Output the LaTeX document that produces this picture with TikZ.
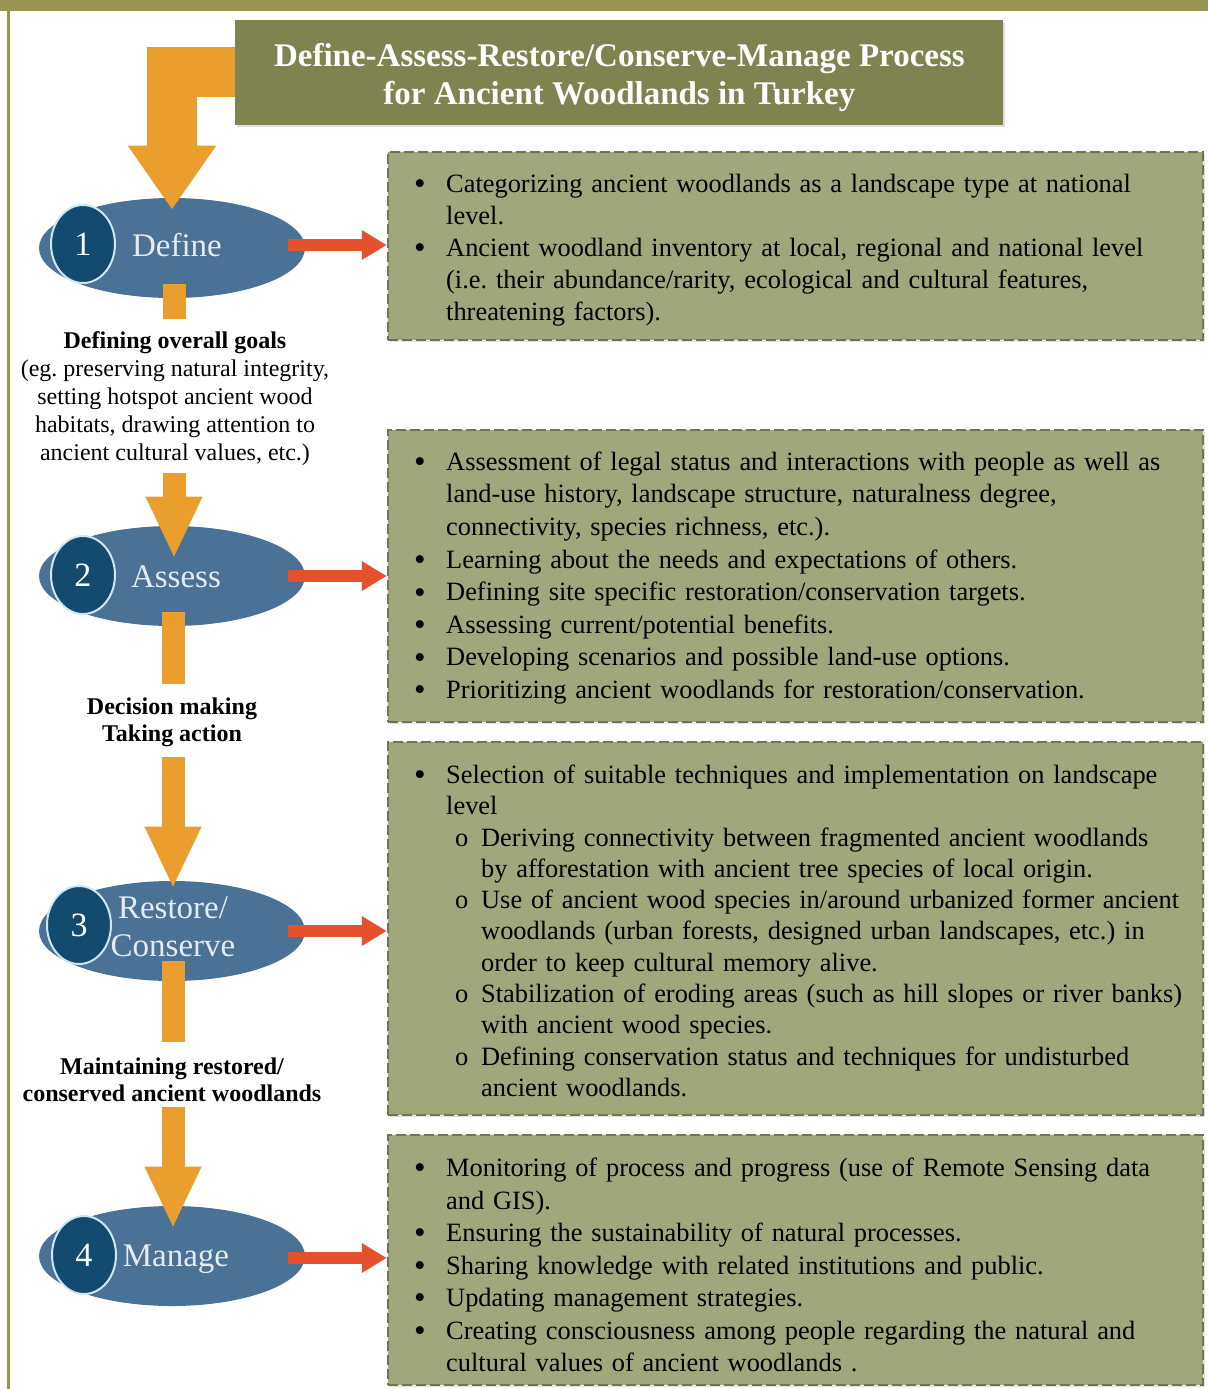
\documentclass[tikz,border=0pt]{standalone}
\usepackage{fontspec}
\setmainfont{Liberation Serif}
\usetikzlibrary{shapes.geometric,arrows.meta,positioning,calc,shadows}
\frenchspacing

\definecolor{bandolive}{HTML}{989452}
\definecolor{titleolive}{HTML}{7E8350}
\definecolor{boxolive}{HTML}{A0A87B}
\definecolor{dashline}{HTML}{6F7458}
\definecolor{gapcream}{HTML}{F4F2E4}
\definecolor{stepblue}{HTML}{4A7196}
\definecolor{steplight}{HTML}{E4ECF1}
\definecolor{numnavy}{HTML}{134A70}
\definecolor{rimcyan}{HTML}{CFE8EE}
\definecolor{flowor}{HTML}{E99E2E}
\definecolor{linkred}{HTML}{E4512C}

% list items for the green boxes
\newcommand{\bigdot}{\smash{\raisebox{-1.2pt}{\scalebox{1.25}{\textbullet}}}}
\newcommand{\bitem}[1]{\par\hangindent=16pt\hangafter=1\noindent\makebox[16pt][l]{\bigdot}#1\par}
\newcommand{\oitem}[1]{\par\hangindent=33.5pt\hangafter=1\noindent\hspace*{20.5pt}\makebox[13pt][l]{o}#1\par}

\begin{document}
\begin{tikzpicture}[x=0.5pt, y=-0.5pt,
  titlebox/.style={fill=titleolive, minimum width=384pt, minimum height=52.5pt, inner sep=0pt,
    drop shadow={shadow xshift=1pt, shadow yshift=-1pt, opacity=0.25}},
  titletext/.style={text=white, font=\bfseries\fontsize{16.5}{19}\selectfont, align=center, inner sep=0pt},
  stepoval/.style={ellipse, fill=stepblue, minimum width=133pt, minimum height=50pt, inner sep=0pt},
  stepnum/.style={ellipse, fill=numnavy, draw=rimcyan, line width=1pt, minimum width=32pt,
    minimum height=39pt, inner sep=0pt, text=white, font=\fontsize{17}{17}\selectfont},
  steptext/.style={text=steplight, font=\fontsize{16.5}{19}\selectfont, align=center, inner sep=0pt},
  goaltext/.style={font=\fontsize{12}{14}\selectfont, align=center, inner sep=0pt},
  infobox/.style={fill=boxolive, minimum width=407.5pt, inner sep=0pt,
    drop shadow={shadow xshift=1pt, shadow yshift=-1pt, opacity=0.25},
    preaction={draw=gapcream, solid, line width=1.2pt},
    draw=dashline, dash pattern=on 5pt off 2pt, line width=1.2pt},
  infotext/.style={anchor=west, text width=400pt, align=left, inner sep=0pt,
    font=\fontsize{13.2}{16}\selectfont},
  flowbar/.style={draw=flowor, line width=11.5pt},
  flowarrow/.style={flowbar, -{Triangle[width=26pt,length=31pt]}},
  redlink/.style={draw=linkred, line width=6pt, -{Triangle[width=14pt,length=12.5pt]}}
]
\useasboundingbox (0,0) rectangle (1208,1389);
\fill[bandolive] (0,0) rectangle (1208,11);
\draw[bandolive, line width=1.5pt] (8.5,11) -- (8.5,1389);

% steps
\node[stepoval] (define) at (172,248) {};
\node[stepoval] (assess) at (172,576) {};
\node[stepoval] (restore) at (172,931) {};
\node[stepoval] (manage) at (172,1256) {};

\node[steptext] (definetxt) at (177,245) {Define};
\node[steptext] (assesstxt) at (176,577) {Assess};
\node[steptext] (restoretxt) at (173,927) {Restore/\\Conserve};
\node[steptext] (managetxt) at (176,1259) {Manage};

\node[stepnum] (num1) at (83,244) {1};
\node[stepnum] (num2) at (83,575) {2};
\node[stepnum] (num3) at (79,925) {3};
\node[stepnum] (num4) at (84,1255) {4};

% texts between the steps
\node[goaltext] (goals) at (175,399) {\textbf{Defining overall goals}\\(eg. preserving natural integrity,\\setting hotspot ancient wood\\habitats, drawing attention to\\ancient cultural values, etc.)};
\node[goaltext, font=\bfseries\fontsize{12}{13.5}\selectfont] (decide) at (172,722) {Decision making\\Taking action};
\node[goaltext, font=\bfseries\fontsize{12}{13.5}\selectfont] (maintain) at (172,1080) {Maintaining restored/\\conserved ancient woodlands};

% orange flow
\coordinate (titleedge) at (235,72);
\draw[flowbar, line width=25pt, -{Triangle[width=42pt,length=32pt]}] ($(titleedge)+(16,0)$) -| ($(define.north)+(0,12)$);
\draw[flowbar] ($(define.south)+(2,-14)$) -- ($(goals.north -| define.south)+(2,-13)$);
\draw[flowarrow] ($(goals.south -| assess.north)+(2,7)$) -- ($(assess.north)+(2,33)$);
\draw[flowbar] ($(assess.south)+(1,-14)$) -- ($(decide.north -| assess.south)+(1,-13)$);
\draw[flowarrow] ($(decide.south -| restore.north)+(1,10)$) -- ($(restore.north)+(1,8)$);
\draw[flowbar] ($(restore.south)+(1,-20)$) -- ($(maintain.north -| restore.south)+(1,-16)$);
\draw[flowarrow] ($(maintain.south -| manage.north)+(1,5)$) -- ($(manage.north)+(1,23)$);

\node[titlebox, anchor=west] (title) at (titleedge) {};
\node[titletext] (titlelbl) at ($(title.center)+(0,5)$) {Define-Assess-Restore/Conserve-Manage Process\\for Ancient Woodlands in Turkey};

% green boxes
\node[infobox, minimum height=94pt] (box1) at (795.5,246) {};
\node[infobox, minimum height=146pt] (box2) at (795.5,576) {};
\node[infobox, minimum height=186.5pt] (box3) at (795.5,928.5) {};
\node[infobox, minimum height=125pt] (box4) at (795.5,1260) {};

\node[infotext] (text1) at ($(box1.west)+(27,-3)$) {%
  \bitem{Categorizing ancient woodlands as a landscape type at national\newline level.}
  \bitem{Ancient woodland inventory at local, regional and national level\newline (i.e. their abundance/rarity, ecological and cultural features,\newline threatening factors).}};
\node[infotext, font=\fontsize{13.2}{16.3}\selectfont] (text2) at ($(box2.west)+(27,-5)$) {%
  \bitem{Assessment of legal status and interactions with people as well as\newline land-use history, landscape structure, naturalness degree,\newline connectivity, species richness, etc.).}
  \bitem{Learning about the needs and expectations of others.}
  \bitem{Defining site specific restoration/conservation targets.}
  \bitem{Assessing current/potential benefits.}
  \bitem{Developing scenarios and possible land-use options.}
  \bitem{Prioritizing ancient woodlands for restoration/conservation.}};
\node[infotext, font=\fontsize{13.2}{15.65}\selectfont] (text3) at ($(box3.west)+(27,-4)$) {%
  \bitem{Selection of suitable techniques and implementation on landscape\newline level}
  \oitem{Deriving connectivity between fragmented ancient woodlands\newline by afforestation with ancient tree species of local origin.}
  \oitem{Use of ancient wood species in/around urbanized former ancient\newline woodlands (urban forests, designed urban landscapes, etc.) in\newline order to keep cultural memory alive.}
  \oitem{Stabilization of eroding areas (such as hill slopes or river banks)\newline with ancient wood species.}
  \oitem{Defining conservation status and techniques for undisturbed\newline ancient woodlands.}};
\node[infotext, font=\fontsize{13.2}{16.25}\selectfont] (text4) at ($(box4.west)+(27,-2)$) {%
  \bitem{Monitoring of process and progress (use of Remote Sensing data\newline and GIS).}
  \bitem{Ensuring the sustainability of natural processes.}
  \bitem{Sharing knowledge with related institutions and public.}
  \bitem{Updating management strategies.}
  \bitem{Creating consciousness among people regarding the natural and\newline cultural values of ancient woodlands .}};

% red links
\draw[redlink] ($(define.east)+(-17,-3)$) -- ($(define.east -| box1.west)+(0,-3)$);
\draw[redlink] ($(assess.east)+(-17,0)$) -- (assess.east -| box2.west);
\draw[redlink] ($(restore.east)+(-17,0)$) -- (restore.east -| box3.west);
\draw[redlink] ($(manage.east)+(-17,2)$) -- ($(manage.east -| box4.west)+(0,2)$);
\end{tikzpicture}
\end{document}
